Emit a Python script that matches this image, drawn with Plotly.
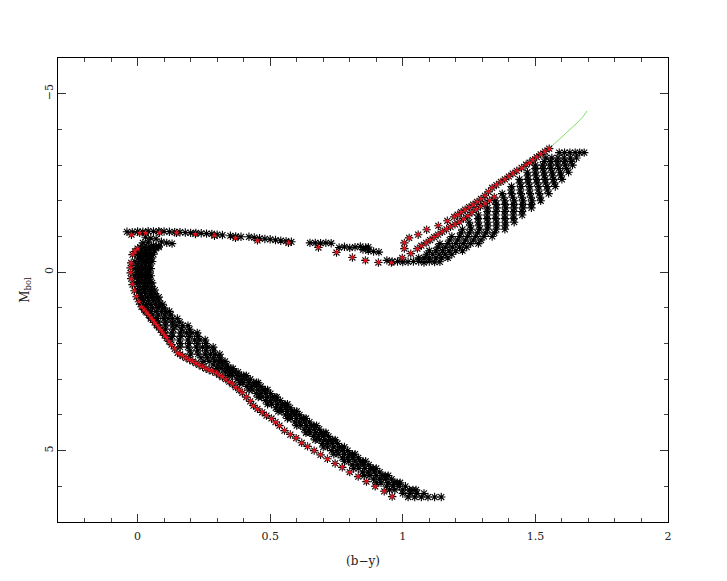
import plotly.graph_objects as go

# Main sequence band: magnitude rows and colour columns
ms_mag = [-0.7,-0.5,-0.3,-0.1,0.1,0.3,0.5,0.7,0.9,1.1,1.3,1.5,1.7,1.9,2.1,2.3,2.5,2.7,
          2.9,3.1,3.3,3.5,3.7,3.9,4.1,4.3,4.5,4.7,4.9,5.1,5.3,5.5,5.7,5.9,6.1,6.3]
ms_a = [.01,.0,-.01,-.01,-.01,-.005,0,.005,.015,.03,.05,.075,.10,.125,.16,.20,.25,.30,
        .345,.385,.42,.455,.49,.53,.565,.60,.635,.67,.70,.74,.78,.815,.855,.90,.95,1.02]
ms_b = [.025,.012,.005,.003,.003,.008,.013,.02,.033,.05,.075,.105,.13,.157,.19,.228,.27,.315,
        .358,.398,.432,.468,.505,.544,.578,.615,.65,.685,.716,.756,.796,.832,.873,.918,.97,1.045]
ms_c = [.04,.024,.02,.016,.016,.021,.026,.037,.05,.07,.10,.133,.162,.19,.222,.255,.29,.33,
        .378,.42,.455,.49,.528,.565,.60,.637,.672,.707,.74,.78,.82,.857,.9,.945,1.0,1.07]
ms_d = [.052,.036,.032,.028,.028,.032,.04,.052,.068,.09,.115,.148,.185,.215,.245,.275,.306,.342,
        .392,.438,.472,.508,.546,.582,.618,.655,.692,.726,.76,.80,.84,.878,.922,.967,1.025,1.095]
ms_e = [.066,.048,.044,.04,.04,.044,.053,.066,.082,.105,.132,.17,.205,.235,.265,.293,.318,.352,
        .40,.448,.482,.518,.556,.592,.627,.665,.702,.736,.77,.81,.85,.889,.934,.979,1.038,1.12]
ms_f = [.08,.06,.055,.05,.05,.055,.065,.08,.095,.12,.15,.19,.225,.255,.285,.31,.33,.36,
        .41,.455,.49,.525,.565,.60,.635,.675,.71,.745,.78,.82,.86,.90,.945,.99,1.05,1.145]

ms2_mag = [-0.6,-0.4,-0.2,0,0.2,0.4,0.6,0.8,1.0,1.2,1.4,1.6,1.8,2.0,2.2,2.4,2.6,2.8,
           3.0,3.2,3.4,3.6,3.8,4.0,4.2,4.4,4.6,4.8,5.0,5.2,5.4,5.6,5.8,6.0,6.2]
ms2_a = [.015,.004,-.001,-.001,.001,.007,.013,.022,.035,.054,.078,.105,.131,.161,.198,.239,.285,.331,
         .375,.412,.448,.483,.521,.558,.593,.628,.663,.697,.732,.772,.809,.848,.89,.939,1.0]
ms2_b = [.031,.02,.015,.014,.016,.023,.03,.041,.056,.078,.105,.135,.163,.193,.227,.263,.303,.347,
         .392,.43,.465,.501,.539,.575,.611,.647,.682,.716,.752,.792,.83,.87,.913,.963,1.027]
ms2_c = [.047,.036,.03,.029,.031,.038,.048,.061,.078,.102,.132,.166,.195,.225,.257,.287,.32,.363,
         .409,.447,.483,.519,.557,.593,.629,.666,.701,.735,.772,.812,.851,.892,.935,.987,1.053]
ms2_d = [.064,.052,.046,.044,.046,.054,.065,.08,.10,.125,.159,.196,.227,.257,.286,.31,.338,.379,
         .425,.465,.501,.538,.575,.611,.648,.685,.72,.754,.792,.832,.872,.913,.958,1.01,1.08]

# Giant branch band
gb_mag = [-0.4,-0.6,-0.8,-1.0,-1.2,-1.4,-1.6,-1.8,-2.0,-2.2,-2.4,-2.6,-2.8,-3.0,-3.2,-3.35]
gb_a = [1.06,1.10,1.14,1.185,1.225,1.25,1.285,1.32,1.35,1.375,1.41,1.44,1.47,1.50,1.54,1.59]
gb_b = [1.08,1.125,1.17,1.215,1.257,1.285,1.318,1.354,1.385,1.41,1.445,1.472,1.50,1.528,1.562,1.61]
gb_c = [1.10,1.15,1.20,1.245,1.29,1.32,1.35,1.388,1.42,1.445,1.478,1.505,1.532,1.556,1.585,1.63]
gb_d = [1.125,1.175,1.228,1.275,1.32,1.353,1.385,1.42,1.453,1.48,1.512,1.537,1.563,1.584,1.608,1.65]
gb_e = [1.147,1.20,1.256,1.306,1.353,1.387,1.417,1.453,1.487,1.515,1.544,1.568,1.594,1.612,1.632,1.667]
gb_f = [1.17,1.225,1.285,1.337,1.385,1.42,1.45,1.485,1.52,1.55,1.575,1.60,1.625,1.64,1.655,1.684]

gb2_mag = [-0.5,-0.7,-0.9,-1.1,-1.3,-1.5,-1.7,-1.9,-2.1,-2.3,-2.5,-2.7,-2.9,-3.1]
gb2_a = [1.09,1.133,1.177,1.22,1.254,1.284,1.319,1.352,1.379,1.409,1.441,1.471,1.50,1.533]
gb2_b = [1.113,1.16,1.207,1.251,1.287,1.318,1.352,1.385,1.414,1.443,1.473,1.502,1.529,1.558]
gb2_c = [1.137,1.187,1.236,1.282,1.32,1.351,1.385,1.418,1.449,1.477,1.506,1.534,1.558,1.584]
gb2_d = [1.16,1.214,1.266,1.313,1.353,1.385,1.418,1.452,1.483,1.511,1.538,1.565,1.588,1.61]
gb2_e = [1.185,1.241,1.295,1.345,1.386,1.418,1.45,1.485,1.518,1.545,1.571,1.596,1.617,1.635]

# Horizontal branch and clump stars
hb_x = [-.04,-.02,0,.02,.04,.06,.08,.10,.12,.14,.16,.18,.20,.22,.24,.26,.28,.30,.32,.35,.37,.39,
        .42,.44,.46,.48,.50,.52,.54,.56,.58,.65,.67,.69,.71,.73,.76,.78,.80,.82,.84,.86,.87,
        .85,.87,.89,.91,.94,.96,.98,1.0,1.02,1.04,1.06,1.08,1.10,1.12,1.14,
        .03,.05,.07,.09,.11,.13,.02,.04,.06,.08]
hb_y = [-1.13,-1.12,-1.14,-1.13,-1.15,-1.14,-1.15,-1.14,-1.13,-1.12,-1.12,-1.11,-1.1,-1.1,-1.09,-1.08,
        -1.07,-1.05,-1.04,-1.02,-1.0,-.99,-.99,-.97,-.95,-.93,-.92,-.9,-.88,-.87,-.85,-.82,-.82,-.81,-.82,-.81,
        -.69,-.71,-.68,-.7,-.72,-.69,-.7,-.63,-.6,-.58,-.56,-.33,-.3,-.3,-.28,-.29,-.3,-.3,-.27,-.3,-.28,-.29,
        -.98,-.95,-.93,-.85,-.82,-.8,-.82,-.84,-.75,-.73]

# Red sequence
red_ms_x = [.96,.93,.896,.863,.832,.80,.772,.745,.716,.69,.666,.641,.619,.598,.576,.554,.535,.52,.505,.486,
            .47,.452,.437,.425,.41,.395,.383,.37,.358,.346,.333,.32,.308,.297,.283,.27,.258,.245,.232,.22,.208,.196,
            .183,.17,.16,.151,.14,.128,.119,.11,.102,.094,.087,.08,.072,.064,.057,.05,.042,.034,.025,.015,.005,-.004,
            -.012,-.019,-.024,-.026,-.026,-.024,-.019,-.01,0]
red_ms_y = [6.29,6.14,6.0,5.87,5.73,5.6,5.47,5.36,5.23,5.12,5.0,4.88,4.78,4.65,4.55,4.44,4.3,4.2,4.1,4.02,
            3.93,3.83,3.74,3.62,3.5,3.38,3.3,3.22,3.14,3.07,3.0,2.94,2.88,2.82,2.78,2.74,2.7,2.65,2.6,2.55,2.5,2.45,
            2.4,2.35,2.3,2.26,2.15,2.03,1.94,1.85,1.77,1.69,1.62,1.55,1.48,1.41,1.34,1.27,1.2,1.13,1.05,.97,.83,.69,
            .52,.35,.18,.02,-.12,-.26,-.49,-.58,-.66]
red_hb_x = [-.023,.008,.03,.083,.147,.218,.29,.369,.452,.569,.682,.75,.81,.859,.908,.957,.998,1.03,1.006,1.006,
            1.024,1.058,1.09,1.134,1.168,1.194,1.207,1.22,1.235,1.25,1.265,1.28,1.295,1.31,1.323,1.337,1.353,1.37,1.385,
            1.40,1.415,1.43,1.448,1.465,1.478,1.49,1.505,1.52,1.536,1.552]
red_hb_y = [-1.05,-1.1,-1.1,-1.11,-1.1,-1.07,-1.02,-.96,-.89,-.82,-.69,-.55,-.41,-.33,-.27,-.27,-.4,-.52,-.66,-.82,
            -.96,-1.05,-1.19,-1.3,-1.44,-1.55,-1.61,-1.68,-1.75,-1.82,-1.89,-1.97,-2.05,-2.14,-2.25,-2.36,-2.44,-2.53,-2.6,
            -2.68,-2.76,-2.84,-2.92,-3.01,-3.07,-3.14,-3.22,-3.3,-3.38,-3.46]
red_rgb_x = [1.055,1.07,1.088,1.103,1.118,1.133,1.149,1.165,1.18,1.197,1.213,1.229,1.245,1.261,1.277,1.293,1.31,1.327,1.345]
red_rgb_y = [-.66,-.74,-.82,-.9,-.98,-1.05,-1.13,-1.2,-1.27,-1.34,-1.41,-1.5,-1.58,-1.67,-1.75,-1.84,-1.92,-2.01,-2.1]

# Green extension
green_x = [1.552,1.58,1.616,1.657,1.68,1.695]
green_y = [-3.46,-3.66,-3.9,-4.18,-4.36,-4.52]

x_ticks = [0, 0.5, 1, 1.5, 2]
x_labels = ["0", "0.5", "1", "1.5", "2"]
y_ticks = [-5, 0, 5]
y_labels = ["\u22125", "0", "5"]

black = dict(symbol="asterisk", size=7, line=dict(color="#000000", width=1.1), color="#000000")
red = dict(symbol="star", size=5, color="#e0141c", line=dict(width=0))

fig = go.Figure()
groups = [(ms_mag, (ms_a, ms_b, ms_c, ms_d, ms_e, ms_f)), (ms2_mag, (ms2_a, ms2_b, ms2_c, ms2_d)),
          (gb_mag, (gb_a, gb_b, gb_c, gb_d, gb_e, gb_f)), (gb2_mag, (gb2_a, gb2_b, gb2_c, gb2_d, gb2_e))]
for mag, cols in groups:
    for col in cols:
        fig.add_trace(go.Scatter(x=col, y=mag, mode="markers", marker=black, showlegend=False))
fig.add_trace(go.Scatter(x=hb_x, y=hb_y, mode="markers", marker=black, showlegend=False))
fig.add_trace(go.Scatter(x=green_x, y=green_y, mode="lines", line=dict(color="#7fe060", width=1), showlegend=False))
for xs, ys in ((red_ms_x, red_ms_y), (red_hb_x, red_hb_y), (red_rgb_x, red_rgb_y)):
    fig.add_trace(go.Scatter(x=xs, y=ys, mode="markers", marker=black, showlegend=False))
    fig.add_trace(go.Scatter(x=xs, y=ys, mode="markers", marker=red, showlegend=False))

axis_common = dict(showgrid=False, zeroline=False, showline=True, linecolor="#000000", linewidth=1.2, automargin=False,
                   mirror="ticks", ticks="inside", ticklen=8, tickwidth=1, tickcolor="#333333")
fig.update_xaxes(range=[-0.30, 2.0], tickvals=x_ticks, ticktext=x_labels, ticklabelstandoff=4,
                 minor=dict(dtick=0.1, ticks="inside", ticklen=4, tickwidth=1, tickcolor="#444444"),
                 title=dict(text="(b\u2212y)", font=dict(size=12), standoff=14), **axis_common)
fig.update_yaxes(range=[7.0, -6.0], tickvals=y_ticks, ticktext=y_labels, tickangle=-90,
                 minor=dict(dtick=1, ticks="inside", ticklen=4, tickwidth=1, tickcolor="#444444"),
                 title=dict(text="M<sub>bol</sub>", font=dict(size=12), standoff=10), **axis_common)
fig.update_layout(width=711, height=565, autosize=False, paper_bgcolor="#ffffff", plot_bgcolor="#ffffff",
                  font=dict(family="DejaVu Serif, Liberation Serif, serif", size=11, color="#222222"),
                  margin=dict(l=50, r=51, t=50, b=51))
fig.write_html("out.html")
